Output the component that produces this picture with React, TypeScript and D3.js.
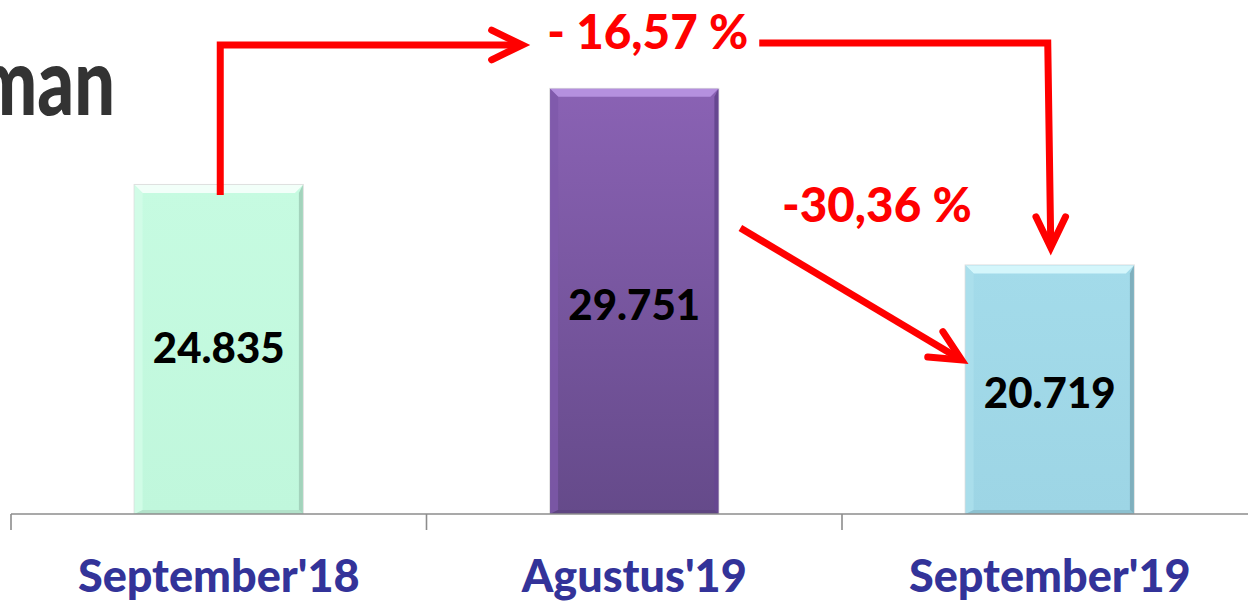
import React from "react";
import * as d3 from "d3";

const categories = ["September'18", "Agustus'19", "September'19"];
const values = [24835, 29751, 20719];
const valueLabels = ["24.835", "29.751", "20.719"];
const changeLabels = ["- 16,57 %", "-30,36 %"];
const yDomain = [8000, 30000];
const titleText = "man";

const W = 1248;
const H = 602;
const FONT = "Lato, 'Open Sans', sans-serif";

const barStyles = [
  { top: "#C6FBE1", bottom: "#C0F7DC", topBevel: "#F2FFF9", left: "#D3FCE8", right: "#A3D3BC", base: "#AEDCC6" },
  { top: "#8A62B4", bottom: "#654A8A", topBevel: "#B590DF", left: "#7E59AA", right: "#664790", base: "#5C437E" },
  { top: "#A3DBEA", bottom: "#9DD5E5", topBevel: "#D4F6FB", left: "#ACE0EC", right: "#7FAFBD", base: "#88BCCA" },
];

function arrowHead(tipX: number, tipY: number, angle: number, len = 34, spread = 0.45) {
  const a1 = angle + Math.PI - spread;
  const a2 = angle + Math.PI + spread;
  const p1 = [tipX + len * Math.cos(a1), tipY + len * Math.sin(a1)];
  const p2 = [tipX + len * Math.cos(a2), tipY + len * Math.sin(a2)];
  return `M${p1[0]},${p1[1]}L${tipX},${tipY}L${p2[0]},${p2[1]}`;
}

export default function App() {
  const baseY = 514;
  const x = d3.scaleBand<string>().domain(categories).range([11, 1257.5]).padding(0);
  const y = d3.scaleLinear().domain(yDomain).range([baseY, 84]);
  const barW = x.bandwidth() * 0.405;
  const cx = (i: number) => (x(categories[i]) as number) + x.bandwidth() / 2;
  const ticks = [...categories.map((c) => x(c) as number), 1257.5];
  const b = 8;
  const labelShift = [14, 19, 18];

  const c0 = cx(0), c1 = cx(1), c2 = cx(2);
  const topY = 45;
  const a1Start: [number, number] = [c0 + 1.5, y(values[0]) + 10];
  const a1Tip: [number, number] = [c1 - 112, topY];
  const label1X = c1 - 87;
  const a2Start: [number, number] = [c1 + 125, topY - 2];
  const a2Corner: [number, number] = [c2 - 2, topY - 2];
  const a2Tip: [number, number] = [c2 + 1, y(values[2]) - 18];
  const a3Start: [number, number] = [c1 + barW / 2 + 22, 228];
  const a3Tip: [number, number] = [c2 - barW / 2 - 4, 360];
  const a3Angle = Math.atan2(a3Tip[1] - a3Start[1], a3Tip[0] - a3Start[0]);

  return (
    <svg
      width={W}
      height={H}
      style={{ position: "absolute", left: 0, top: 0, background: "#fff" }}
      fontFamily={FONT}
    >
      <defs>
        {barStyles.map((s, i) => (
          <linearGradient key={i} id={`bg${i}`} x1="0" y1="0" x2="0" y2="1">
            <stop offset="0" stopColor={s.top} />
            <stop offset="1" stopColor={s.bottom} />
          </linearGradient>
        ))}
      </defs>

      {/* title fragment (cut at the left edge, as in the reference) */}
      <text
        x={115}
        y={115}
        textAnchor="end"
        fontSize={72}
        fontWeight={900}
        fill="#333333"
        transform="translate(0,115) scale(1,1.3) translate(0,-115)"
      >
        {titleText}
      </text>

      {values.map((v, i) => {
        const x0 = cx(i) - barW / 2;
        const x1 = cx(i) + barW / 2;
        const y0 = y(v);
        const y1 = baseY;
        const s = barStyles[i];
        return (
          <g key={i}>
            <rect x={x0 - 1} y={y0 - 1} width={barW + 2} height={y1 - y0 + 1} fill="#000" opacity={0.12} />
            <rect x={x0} y={y0} width={barW} height={y1 - y0} fill={`url(#bg${i})`} />
            <path d={`M${x0},${y0}L${x1},${y0}L${x1 - b},${y0 + b}L${x0 + b},${y0 + b}Z`} fill={s.topBevel} />
            <path d={`M${x0},${y0}L${x0 + b},${y0 + b}L${x0 + b},${y1 - b / 2}L${x0},${y1}Z`} fill={s.left} opacity={0.8} />
            <path d={`M${x1},${y0}L${x1},${y1}L${x1 - b / 2},${y1 - b / 2}L${x1 - b / 2},${y0 + b}Z`} fill={s.right} />
            <path d={`M${x0},${y1}L${x0 + b},${y1 - b / 2}L${x1 - b / 2},${y1 - b / 2}L${x1},${y1}Z`} fill={s.base} opacity={0.8} />
            <text
              x={cx(i)}
              y={(y0 + y1) / 2 + labelShift[i]}
              textAnchor="middle"
              fontSize={42}
              fontWeight={900}
              fill="#000"
            >
              {valueLabels[i]}
            </text>
          </g>
        );
      })}

      <line x1={ticks[0]} x2={W} y1={baseY} y2={baseY} stroke="#8c8c8c" strokeWidth={1.6} />
      {ticks.map((t, i) => (
        <line key={i} x1={t} x2={t} y1={baseY} y2={baseY + 16} stroke="#8c8c8c" strokeWidth={1.6} />
      ))}
      {categories.map((c, i) => (
        <text key={c} x={cx(i)} y={592} textAnchor="middle" fontSize={45} fontWeight={900} fill="#333399">
          {c}
        </text>
      ))}

      <g stroke="#FF0000" strokeWidth={7} fill="none">
        <path d={`M${a1Start[0]},${a1Start[1]}L${a1Start[0]},${topY}L${a1Tip[0] - 3},${topY}`} strokeLinejoin="miter" />
        <path d={arrowHead(a1Tip[0], a1Tip[1], 0)} strokeLinecap="round" strokeLinejoin="miter" />
        <path d={`M${a2Start[0]},${a2Start[1]}L${a2Corner[0]},${a2Corner[1]}L${a2Tip[0]},${a2Tip[1] - 3}`} strokeLinejoin="miter" />
        <path d={arrowHead(a2Tip[0], a2Tip[1], Math.PI / 2)} strokeLinecap="round" />
        <path d={`M${a3Start[0]},${a3Start[1]}L${a3Tip[0] - 3 * Math.cos(a3Angle)},${a3Tip[1] - 3 * Math.sin(a3Angle)}`} />
        <path d={arrowHead(a3Tip[0], a3Tip[1], a3Angle)} strokeLinecap="round" />
      </g>
      <text x={label1X} y={49} fontSize={47.5} fontWeight={900} fill="#FF0000">
        {changeLabels[0]}
      </text>
      <text x={782} y={222} fontSize={47.5} fontWeight={900} fill="#FF0000">
        {changeLabels[1]}
      </text>
    </svg>
  );
}
